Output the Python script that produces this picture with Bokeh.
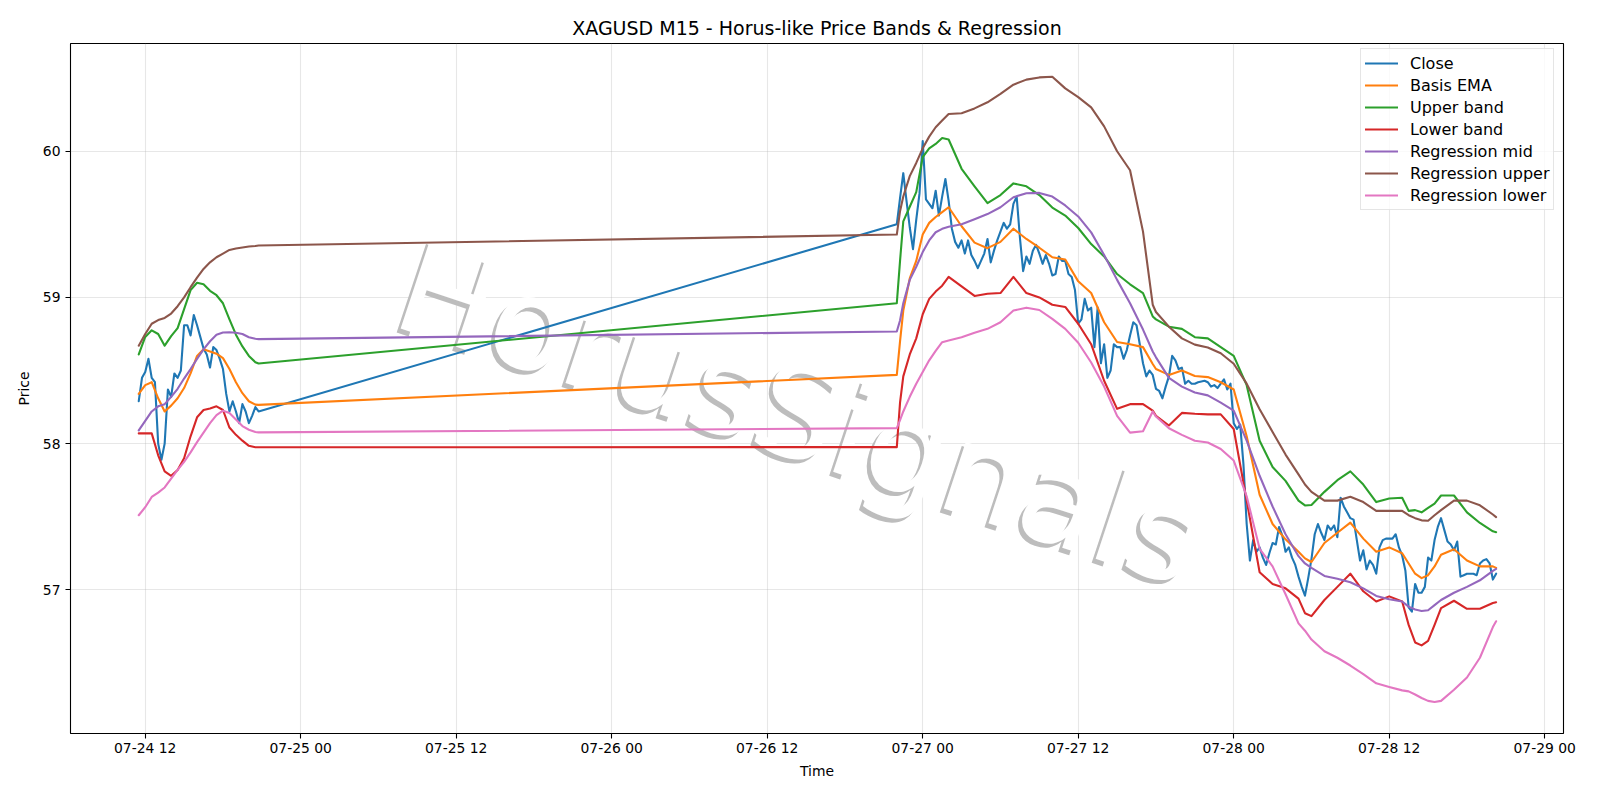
import pandas as pd
from bokeh.plotting import figure
from bokeh.models import (Range1d, FixedTicker, DatetimeTickFormatter, Legend,
                          LegendItem, ColumnDataSource)
from bokeh.embed import file_html
from bokeh.resources import INLINE
from bokeh.core.properties import value

# ---------------- data ----------------
BAR_MINUTES = 15
session1_start = "2025-07-24 11:30"
session2_start = "2025-07-26 22:00"

# Close, every 15-minute bar
close_s1 = [58.29, 58.45, 58.49, 58.58, 58.45, 58.42, 58.00, 57.89, 58.00, 58.37,
            58.32, 58.48, 58.45, 58.50, 58.81, 58.81, 58.74, 58.88, 58.81, 58.73,
            58.65, 58.61, 58.52, 58.66, 58.64, 58.58, 58.51, 58.34, 58.22, 58.29,
            58.22, 58.14, 58.27, 58.22, 58.14, 58.19, 58.25, 58.22]
close_s2 = [59.50, 59.68, 59.85, 59.66, 59.48, 59.33, 59.53, 59.71, 60.07, 59.67,
            59.64, 59.61, 59.73, 59.56, 59.69, 59.81, 59.66, 59.47, 59.38, 59.34,
            59.39, 59.30, 59.39, 59.29, 59.25, 59.20, 59.25, 59.30, 59.40, 59.24,
            59.32, 59.39, 59.45, 59.51, 59.47, 59.50, 59.64, 59.69, 59.41, 59.18,
            59.28, 59.23, 59.32, 59.36, 59.30, 59.23, 59.29, 59.23, 59.15, 59.16,
            59.28, 59.25, 59.25, 59.16, 59.14, 59.05, 58.82, 58.85, 58.99, 58.91,
            58.93, 58.66, 58.93, 58.55, 58.68, 58.45, 58.50, 58.68, 58.66, 58.66,
            58.58, 58.64, 58.74, 58.83, 58.81, 58.68, 58.55, 58.46, 58.50, 58.47,
            58.375, 58.36, 58.31, 58.39, 58.46, 58.60, 58.57, 58.51, 58.52, 58.41,
            58.43, 58.41, 58.41, 58.42, 58.425, 58.43, 58.42, 58.39, 58.40, 58.38,
            58.41, 58.44, 58.37, 58.41, 58.14, 58.10, 58.13, 57.86, 57.45, 57.20,
            57.34, 57.26, 57.29, 57.22, 57.17, 57.25, 57.32, 57.31, 57.43, 57.37,
            57.26, 57.29, 57.22, 57.17, 57.09, 57.02, 56.96, 57.08, 57.21, 57.38,
            57.45, 57.39, 57.34, 57.44, 57.41, 57.44, 57.36, 57.63, 57.57, 57.53,
            57.49, 57.48, 57.34, 57.20, 57.27, 57.14, 57.20, 57.17, 57.11, 57.29,
            57.34, 57.35, 57.35, 57.35, 57.38, 57.29, 57.235, 57.13, 56.88, 56.85,
            57.04, 56.98, 56.98, 57.02, 57.22, 57.20, 57.34, 57.43, 57.49, 57.41,
            57.33, 57.31, 57.27, 57.33, 57.09, 57.10, 57.11, 57.11, 57.11, 57.10,
            57.18, 57.20, 57.21, 57.18, 57.07, 57.11]

# bar numbers (within each session) at which the band values were read
band_bars_s1 = [0, 2, 4, 6, 8, 10, 12, 14, 16, 18, 20, 22, 24, 26, 28, 30, 32, 34, 36, 37]
band_bars_s2 = [0, 1, 2, 4, 6, 8, 10, 12, 14, 16, 20, 24, 28, 32, 36, 40, 44, 48, 52, 56,
                60, 64, 68, 72, 76, 79, 80, 84, 88, 92, 96, 100, 104, 108, 112, 116,
                120, 124, 126, 128, 132, 136, 140, 144, 148, 152, 156, 158, 160, 162,
                164, 166, 168, 172, 176, 180, 184, 185]

basis_s1 = [58.34, 58.40, 58.42, 58.31, 58.22, 58.26, 58.31, 58.38, 58.48, 58.60,
            58.645, 58.63, 58.615, 58.585, 58.51, 58.42, 58.345, 58.29, 58.267, 58.265]
basis_s2 = [58.47, 58.70, 58.91, 59.13, 59.25, 59.43, 59.51, 59.55, 59.583, 59.617,
            59.487, 59.375, 59.337, 59.38, 59.47, 59.40, 59.34, 59.275, 59.26, 59.11,
            59.03, 58.83, 58.695, 58.68, 58.66, 58.545, 58.51, 58.47, 58.50, 58.462,
            58.455, 58.42, 58.37, 58.05, 57.65, 57.45, 57.345, 57.26, 57.215, 57.19,
            57.32, 57.39, 57.46, 57.35, 57.26, 57.29, 57.25, 57.18, 57.11, 57.08,
            57.10, 57.16, 57.24, 57.277, 57.20, 57.16, 57.16, 57.15]

upper_s1 = [58.61, 58.73, 58.775, 58.75, 58.67, 58.735, 58.79, 58.92, 59.05, 59.10,
            59.09, 59.045, 59.015, 58.96, 58.85, 58.745, 58.665, 58.60, 58.557, 58.548]
upper_s2 = [58.96, 59.25, 59.52, 59.62, 59.72, 59.96, 60.02, 60.05, 60.09, 60.08,
            59.88, 59.76, 59.645, 59.70, 59.78, 59.76, 59.70, 59.615, 59.56, 59.475,
            59.365, 59.28, 59.16, 59.09, 59.03, 58.87, 58.85, 58.80, 58.785, 58.728,
            58.72, 58.66, 58.60, 58.40, 58.02, 57.84, 57.745, 57.61, 57.577, 57.58,
            57.67, 57.75, 57.81, 57.72, 57.60, 57.625, 57.63, 57.54, 57.545, 57.53,
            57.56, 57.59, 57.645, 57.645, 57.53, 57.457, 57.40, 57.394]

lower_s1 = [58.07, 58.07, 58.07, 57.92, 57.81, 57.78, 57.82, 57.90, 58.05, 58.18,
            58.23, 58.24, 58.255, 58.23, 58.11, 58.06, 58.02, 57.985, 57.975, 57.975]
lower_s2 = [57.976, 58.28, 58.46, 58.61, 58.72, 58.885, 58.99, 59.04, 59.08, 59.14,
            59.075, 59.01, 59.025, 59.03, 59.14, 59.03, 59.00, 58.95, 58.935, 58.82,
            58.68, 58.43, 58.238, 58.27, 58.27, 58.226, 58.19, 58.124, 58.21, 58.204,
            58.20, 58.20, 58.10, 57.61, 57.12, 57.04, 57.01, 56.94, 56.84, 56.82,
            56.93, 57.02, 57.11, 56.99, 56.92, 56.955, 56.92, 56.76, 56.64, 56.62,
            56.65, 56.76, 56.875, 56.925, 56.87, 56.87, 56.91, 56.915]

reg_mid_s1 = [58.09, 58.155, 58.22, 58.255, 58.27, 58.32, 58.375, 58.445, 58.51, 58.58,
              58.645, 58.70, 58.745, 58.76, 58.762, 58.758, 58.75, 58.728, 58.717, 58.715]
reg_mid_s2 = [58.767, 58.842, 58.96, 59.12, 59.21, 59.31, 59.39, 59.446, 59.469, 59.483,
              59.50, 59.535, 59.57, 59.617, 59.685, 59.713, 59.715, 59.69, 59.629, 59.554,
              59.445, 59.29, 59.12, 58.96, 58.78, 58.63, 58.59, 58.45, 58.39, 58.35,
              58.33, 58.28, 58.226, 58.02, 57.78, 57.57, 57.38, 57.23, 57.18, 57.15,
              57.095, 57.075, 57.052, 57.01, 56.958, 56.935, 56.92, 56.885, 56.865, 56.855,
              56.86, 56.895, 56.93, 56.98, 57.02, 57.065, 57.13, 57.143]

reg_upper_s1 = [58.67, 58.75, 58.82, 58.845, 58.86, 58.89, 58.94, 59.00, 59.07, 59.135,
                59.195, 59.24, 59.275, 59.30, 59.325, 59.335, 59.342, 59.348, 59.352, 59.355]
reg_upper_s2 = [59.43, 59.59, 59.69, 59.83, 59.92, 60.02, 60.10, 60.164, 60.21, 60.255,
                60.26, 60.293, 60.335, 60.392, 60.455, 60.49, 60.505, 60.51, 60.43, 60.37,
                60.30, 60.17, 60.00, 59.87, 59.45, 58.95, 58.90, 58.80, 58.72, 58.677,
                58.658, 58.618, 58.546, 58.41, 58.235, 58.08, 57.925, 57.79, 57.72, 57.67,
                57.61, 57.61, 57.636, 57.60, 57.54, 57.54, 57.54, 57.51, 57.49, 57.475,
                57.472, 57.51, 57.545, 57.61, 57.61, 57.578, 57.515, 57.497]

reg_lower_s1 = [57.51, 57.565, 57.635, 57.665, 57.70, 57.76, 57.82, 57.875, 57.94, 58.01,
                58.075, 58.14, 58.195, 58.225, 58.21, 58.165, 58.12, 58.095, 58.08, 58.077]
reg_lower_s2 = [58.106, 58.16, 58.22, 58.32, 58.41, 58.49, 58.57, 58.635, 58.694, 58.705,
                58.728, 58.758, 58.785, 58.83, 58.91, 58.93, 58.914, 58.853, 58.785, 58.69,
                58.555, 58.39, 58.19, 58.075, 58.085, 58.22, 58.185, 58.105, 58.06, 58.02,
                58.008, 57.963, 57.884, 57.64, 57.28, 57.16, 56.97, 56.77, 56.72, 56.66,
                56.58, 56.535, 56.482, 56.423, 56.36, 56.335, 56.312, 56.305, 56.284, 56.26,
                56.24, 56.232, 56.24, 56.316, 56.40, 56.535, 56.745, 56.785]

y_ticks = [57, 58, 59, 60]
x_tick_start = "2025-07-24 12:00"
x_tick_end = "2025-07-29 00:00"
x_view = ("2025-07-24 06:14", "2025-07-29 01:27")
y_view = (56.017, 60.737)

title_text = "XAGUSD M15 - Horus-like Price Bands & Regression"
watermark_text = "HorusSignals"

# ---------------- build ----------------
bar = pd.Timedelta(minutes=BAR_MINUTES)
t1 = pd.Timestamp(session1_start)
t2 = pd.Timestamp(session2_start)


def bar_times(start, bars):
    return [start + bar * b for b in bars]


close_t = bar_times(t1, range(len(close_s1))) + bar_times(t2, range(len(close_s2)))
band_t = bar_times(t1, band_bars_s1) + bar_times(t2, band_bars_s2)

FONT = "DejaVu Sans"

p = figure(frame_width=1493, frame_height=690,
           min_border_left=70, min_border_right=37,
           min_border_top=43, min_border_bottom=67,
           x_axis_type="datetime",
           x_range=Range1d(pd.Timestamp(x_view[0]), pd.Timestamp(x_view[1])),
           y_range=Range1d(*y_view),
           output_backend="svg", toolbar_location=None)

p.background_fill_color = "white"
p.border_fill_color = "white"
p.outline_line_color = "black"
p.outline_line_width = 1.1

p.title.text = title_text
p.title.align = "center"
p.title.text_font = FONT
p.title.text_font_size = "19px"
p.title.text_font_style = "normal"
p.title.text_color = "black"
p.title.standoff = 9

tick_ms = [int(t.value // 10**6) for t in
           pd.date_range(x_tick_start, x_tick_end, freq="12h")]
p.xaxis.ticker = FixedTicker(ticks=tick_ms)
fmt = "%m-%d %H"
p.xaxis.formatter = DatetimeTickFormatter(
    microseconds=fmt, milliseconds=fmt, seconds=fmt, minsec=fmt, minutes=fmt,
    hourmin=fmt, hours=fmt, days=fmt, months=fmt, years=fmt, context=None)
p.yaxis.ticker = FixedTicker(ticks=y_ticks)

p.xaxis.axis_label = "Time"
p.yaxis.axis_label = "Price"
for ax in (p.xaxis[0], p.yaxis[0]):
    ax.axis_line_color = None
    ax.major_tick_out = 5
    ax.major_tick_in = 0
    ax.minor_tick_out = 0
    ax.minor_tick_in = 0
    ax.major_tick_line_color = "black"
    ax.major_tick_line_width = 1.1
    ax.major_label_text_font = FONT
    ax.major_label_text_font_size = "13.9px"
    ax.major_label_text_color = "black"
    ax.axis_label_text_font = FONT
    ax.axis_label_text_font_size = "13.9px"
    ax.axis_label_text_font_style = "normal"
    ax.axis_label_text_color = "black"
p.xaxis.major_label_standoff = 1
p.yaxis.major_label_standoff = 5
p.xaxis.axis_label_standoff = 4
p.yaxis.axis_label_standoff = 8

for g in (p.xgrid[0], p.ygrid[0]):
    g.grid_line_color = "#b0b0b0"
    g.grid_line_alpha = 0.3
    g.grid_line_width = 1.1

# watermark (shadow + white face), centred in the plotting area
x_mid = pd.Timestamp(x_view[0]) + (pd.Timestamp(x_view[1]) - pd.Timestamp(x_view[0])) / 2
y_mid = (y_view[0] + y_view[1]) / 2
wm = ColumnDataSource(dict(x=[x_mid], y=[y_mid], t=[watermark_text]))
p.text(x="x", y="y", text="t", source=wm, angle=-0.32,
       text_align="center", text_baseline="middle",
       text_font=value(FONT), text_font_size="128px",
       text_color="#bdbdbd", x_offset=-22, y_offset=29)
p.text(x="x", y="y", text="t", source=wm, angle=-0.32,
       text_align="center", text_baseline="middle",
       text_font=value(FONT), text_font_size="128px",
       text_color="white", x_offset=-18, y_offset=25)

series = [
    ("Close", close_t, close_s1 + close_s2, "#1f77b4"),
    ("Basis EMA", band_t, basis_s1 + basis_s2, "#ff7f0e"),
    ("Upper band", band_t, upper_s1 + upper_s2, "#2ca02c"),
    ("Lower band", band_t, lower_s1 + lower_s2, "#d62728"),
    ("Regression mid", band_t, reg_mid_s1 + reg_mid_s2, "#9467bd"),
    ("Regression upper", band_t, reg_upper_s1 + reg_upper_s2, "#8c564b"),
    ("Regression lower", band_t, reg_lower_s1 + reg_lower_s2, "#e377c2"),
]

items = []
for name, xs, ys, col in series:
    r = p.line(x=xs, y=ys, line_color=col, line_width=2.1,
               line_join="round", line_cap="round")
    items.append(LegendItem(label=name, renderers=[r]))

legend = Legend(items=items, location=(1290, 523))
legend.label_text_font = FONT
legend.label_text_font_size = "16px"
legend.label_text_color = "black"
legend.glyph_width = 33
legend.glyph_height = 20
legend.label_height = 20
legend.label_standoff = 12
legend.spacing = 2
legend.padding = 4
legend.margin = 0
legend.border_line_color = "#cccccc"
legend.border_line_width = 1
legend.background_fill_color = "white"
legend.background_fill_alpha = 0.8
p.add_layout(legend)

open("out.html", "w").write(file_html(p, INLINE))
